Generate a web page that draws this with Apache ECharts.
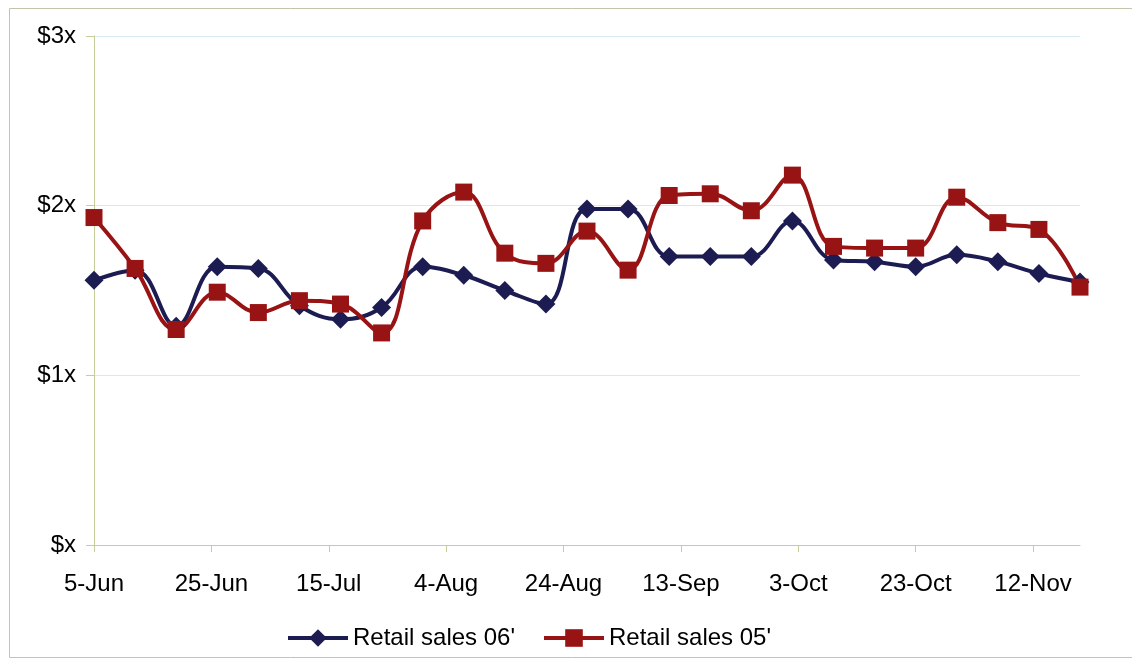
<!DOCTYPE html>
<html>
<head>
<meta charset="utf-8">
<script src="https://cdn.jsdelivr.net/npm/echarts@6/dist/echarts.min.js"></script>
<style>
html,body{margin:0;padding:0;background:#fff;}
#chart{width:1132px;height:659px;}
</style>
</head>
<body>
<div id="chart"></div>
<script>
// Weekly observation dates
var dates = ['5-Jun','12-Jun','19-Jun','26-Jun','3-Jul','10-Jul','17-Jul','24-Jul','31-Jul',
  '7-Aug','14-Aug','21-Aug','28-Aug','4-Sep','11-Sep','18-Sep','25-Sep','2-Oct','9-Oct',
  '16-Oct','23-Oct','30-Oct','6-Nov','13-Nov','20-Nov'];
// Retail sales 06'
var sales06 = [1.56,1.62,1.29,1.64,1.63,1.41,1.33,1.40,1.64,1.59,1.50,1.42,1.98,1.98,
  1.70,1.70,1.70,1.91,1.68,1.67,1.64,1.71,1.67,1.60,1.55];
// Retail sales 05'
var sales05 = [1.93,1.63,1.27,1.49,1.37,1.44,1.42,1.25,1.91,2.08,1.72,1.66,1.85,1.62,
  2.06,2.07,1.97,2.18,1.76,1.75,1.75,2.05,1.90,1.86,1.52];
// Axis tick labels
var xTickLabels = ['5-Jun','25-Jun','15-Jul','4-Aug','24-Aug','13-Sep','3-Oct','23-Oct','12-Nov'];
var yTickLabels = ['$x','$1x','$2x','$3x'];

var months = {Jan:0,Feb:1,Mar:2,Apr:3,May:4,Jun:5,Jul:6,Aug:7,Sep:8,Oct:9,Nov:10,Dec:11};
function dayOffset(s){
  var p = s.split('-');
  var t = Date.UTC(2006, months[p[1]], +p[0]);
  var t0 = Date.UTC(2006, 5, 5);
  return Math.round((t - t0) / 86400000);
}
var xs = dates.map(dayOffset);
function pairs(vals){ return vals.map(function(v,i){ return [xs[i], v]; }); }

var font = 'Liberation Sans, Arial, sans-serif';
var chart = echarts.init(document.getElementById('chart'), null, {renderer:'canvas'});
chart.setOption({
  animation:false,
  backgroundColor:'#ffffff',
  graphic:[{
    type:'rect', left:7, top:6, silent:true,
    shape:{x:0,y:0,width:1140,height:649},
    style:{fill:'none', stroke:'#c4c4ac', lineWidth:1}
  }],
  grid:{left:94, right:52, top:36, bottom:114, containLabel:false},
  legend:{
    left:286, top:626, padding:0,
    itemWidth:60, itemHeight:22, itemGap:27,
    lineStyle:{width:4},
    textStyle:{fontFamily:font, fontSize:24, color:'#000'},
    data:["Retail sales 06'","Retail sales 05'"]
  },
  xAxis:{
    type:'value', min:0, max:168, interval:20,
    axisLine:{show:true, lineStyle:{color:'#c6cc9a', width:1}},
    axisTick:{show:true, length:7, lineStyle:{color:'#c6cc9a'}},
    splitLine:{show:false},
    axisLabel:{
      showMaxLabel:false,
      margin:27, fontFamily:font, fontSize:24, color:'#000',
      formatter:function(v){ var i = v/20; return (i === Math.floor(i) && xTickLabels[i]) ? xTickLabels[i] : ''; }
    }
  },
  yAxis:{
    type:'value', min:0, max:3, interval:1,
    axisLine:{show:true, lineStyle:{color:'#c6cc9a', width:1}},
    axisTick:{show:true, length:8, lineStyle:{color:'#c6cc9a'}},
    splitLine:{show:true, lineStyle:{color:'#d6eaf2', width:1}},
    axisLabel:{
      margin:18, fontFamily:font, fontSize:24, color:'#000',
      formatter:function(v){ return yTickLabels[Math.round(v)]; }
    }
  },
  series:[
    {
      name:"Retail sales 06'", type:'line', data:pairs(sales06),
      smooth:0.4, symbol:'diamond', symbolSize:19, showAllSymbol:true,
      lineStyle:{color:'#1c1c52', width:4},
      itemStyle:{color:'#1c1c52'}
    },
    {
      name:"Retail sales 05'", type:'line', data:pairs(sales05),
      smooth:0.4, symbol:'rect', symbolSize:17, showAllSymbol:true,
      lineStyle:{color:'#981414', width:4},
      itemStyle:{color:'#981414'}
    }
  ]
});
</script>
</body>
</html>
